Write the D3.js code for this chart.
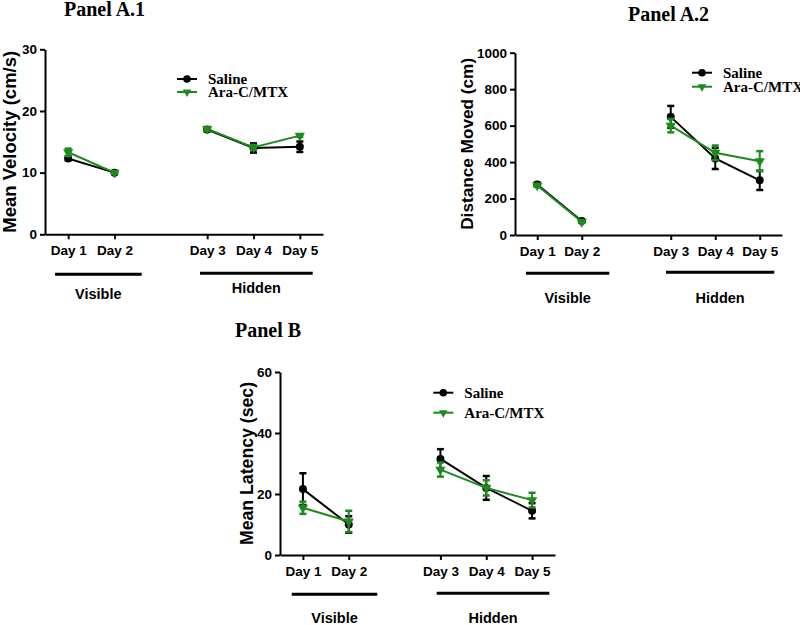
<!DOCTYPE html>
<html>
<head>
<meta charset="utf-8">
<script src="https://cdn.jsdelivr.net/npm/d3@7"></script>
<style>
  html, body { margin: 0; padding: 0; background: #fff; }
  svg { display: block; }
  .sans { font-family: "Liberation Sans", Arial, sans-serif; font-weight: bold; }
  .serif { font-family: "Liberation Serif", "Times New Roman", serif; font-weight: bold; }
</style>
</head>
<body>
<svg id="chart" width="800" height="625"></svg>
<script>
// ---------- data ----------
const days = ["Day 1", "Day 2", "Day 3", "Day 4", "Day 5"];
const xSlots = ["Day 1", "Day 2", " ", "Day 3", "Day 4", "Day 5"]; // blank slot = gap between phases
const phases = ["Visible", "Hidden"];
const phaseDays = [["Day 1", "Day 2"], ["Day 3", "Day 4", "Day 5"]];
const seriesNames = ["Saline", "Ara-C/MTX"];

// Panel A.1 – Mean velocity (cm/s)
const velTicks = [0, 10, 20, 30];
const velSaline = [12.3, 10.0, 17.0, 14.0, 14.2];
const velSalineErr = [0.3, 0.2, 0.3, 0.75, 0.85];
const velAra = [13.3, 10.0, 17.1, 14.1, 16.0];
const velAraErr = [0.6, 0.2, 0.3, 0.4, 0.2];

// Panel A.2 – Distance moved (cm)
const distTicks = [0, 200, 400, 600, 800, 1000];
const distSaline = [277, 77, 648, 420, 300];
const distSalineErr = [10, 8, 60, 58, 53];
const distAra = [272, 73, 600, 451, 405];
const distAraErr = [8, 6, 37, 40, 55];

// Panel B – Mean latency (sec)
const latTicks = [0, 20, 40, 60];
const latSaline = [21.6, 10.0, 31.5, 22.0, 14.5];
const latSalineErr = [5.2, 2.7, 3.2, 3.9, 2.5];
const latAra = [15.5, 11.0, 28.0, 22.0, 18.0];
const latAraErr = [2.0, 3.5, 2.3, 2.5, 2.4];

const colors = ["#000000", "#1c8a1c"];

// ---------- layout ----------
const panels = [
  { title: "Panel A.1", ytitle: "Mean Velocity (cm/s)", ytitleSize: 18.5,
    left: 45, right: 323, top: 49.3, bottom: 234.3, ticks: velTicks,
    series: [[velSaline, velSalineErr], [velAra, velAraErr]],
    titleX: 64, titleY: 16, ytitleX: 15.5,
    legX: 177, legY: [79, 92],
    bars: [[55, 141.7, 274.3], [200, 312.7, 273.3]], labelY: [299, 293] },
  { title: "Panel A.2", ytitle: "Distance Moved (cm)", ytitleSize: 17.2,
    left: 515, right: 782, top: 52.7, bottom: 235, ticks: distTicks,
    series: [[distSaline, distSalineErr], [distAra, distAraErr]],
    titleX: 628, titleY: 20.5, ytitleX: 472.5,
    legX: 692, legY: [72.7, 86.7],
    bars: [[526, 609.3, 273.3], [666, 774.3, 272.3]], labelY: [303, 303] },
  { title: "Panel B", ytitle: "Mean Latency (sec)", ytitleSize: 17.7,
    left: 280, right: 555, top: 372, bottom: 555, ticks: latTicks,
    series: [[latSaline, latSalineErr], [latAra, latAraErr]],
    titleX: 235, titleY: 337, ytitleX: 253,
    legX: 433.3, legY: [392.7, 412.7],
    bars: [[291.7, 377.3, 594.3], [436.7, 549.3, 593.3]], labelY: [622.5, 622.5] }
];

const svg = d3.select("#chart");
const triDown = d3.symbol().type(d3.symbolTriangle);

panels.forEach(p => {
  const g = svg.append("g");
  const x = d3.scalePoint().domain(xSlots).range([p.left, p.right]).padding(0.5);
  const y = d3.scaleLinear().domain([0, d3.max(p.ticks)]).range([p.bottom, p.top]);

  // title
  g.append("text").attr("class", "serif")
    .attr("x", p.titleX).attr("y", p.titleY)
    .attr("font-size", 20).text(p.title);

  // axes
  const xAxis = g.append("g").attr("transform", `translate(0,${p.bottom})`)
    .call(d3.axisBottom(x).tickValues(days).tickSize(5).tickSizeOuter(0).tickPadding(6));
  const yAxis = g.append("g").attr("transform", `translate(${p.left},0)`)
    .call(d3.axisLeft(y).tickValues(p.ticks).tickSize(5).tickSizeOuter(0).tickPadding(3).tickFormat(d3.format("d")));
  [xAxis, yAxis].forEach(a => {
    a.select(".domain").attr("stroke", "#000").attr("stroke-width", 2);
    a.selectAll(".tick line").attr("stroke", "#000").attr("stroke-width", 2);
    a.selectAll(".tick text").attr("class", "sans").attr("font-size", 13.5).attr("fill", "#000");
  });

  // y title
  g.append("text").attr("class", "sans")
    .attr("transform", `translate(${p.ytitleX},${(p.top + p.bottom) / 2}) rotate(-90)`)
    .attr("text-anchor", "middle").attr("font-size", p.ytitleSize).text(p.ytitle);

  // phase bars & labels
  phases.forEach((ph, i) => {
    const b = p.bars[i];
    g.append("line").attr("x1", b[0]).attr("x2", b[1]).attr("y1", b[2]).attr("y2", b[2])
      .attr("stroke", "#000").attr("stroke-width", 3);
    g.append("text").attr("class", "sans").attr("font-size", 14.5)
      .attr("text-anchor", "middle").attr("x", (b[0] + b[1]) / 2).attr("y", p.labelY[i]).text(ph);
  });

  // series
  p.series.forEach((s, si) => {
    const vals = s[0], errs = s[1];
    const col = colors[si];
    const pts = days.map((d, i) => ({ d, v: vals[i], e: errs[i] }));
    const sg = g.append("g");
    const line = d3.line().x(d => x(d.d)).y(d => y(d.v));
    phaseDays.forEach(pd => {
      sg.append("path").datum(pts.filter(q => pd.includes(q.d)))
        .attr("d", line).attr("fill", "none").attr("stroke", col).attr("stroke-width", 2);
    });
    // error bars
    const eb = sg.selectAll(".eb").data(pts).join("g");
    eb.append("line").attr("x1", d => x(d.d)).attr("x2", d => x(d.d))
      .attr("y1", d => y(d.v - d.e)).attr("y2", d => y(d.v + d.e))
      .attr("stroke", col).attr("stroke-width", 2);
    [-1, 1].forEach(sign => {
      eb.append("line").attr("x1", d => x(d.d) - 3.5).attr("x2", d => x(d.d) + 3.5)
        .attr("y1", d => y(d.v + sign * d.e)).attr("y2", d => y(d.v + sign * d.e))
        .attr("stroke", col).attr("stroke-width", 2.5);
    });
    // markers
    if (si === 0) {
      sg.selectAll(".mk").data(pts).join("circle")
        .attr("cx", d => x(d.d)).attr("cy", d => y(d.v)).attr("r", 4).attr("fill", col);
    } else {
      sg.selectAll(".mk").data(pts).join("path")
        .attr("d", triDown.size(46))
        .attr("transform", d => `translate(${x(d.d)},${y(d.v)}) rotate(180)`).attr("fill", col);
    }
  });

  // legend
  seriesNames.forEach((nm, si) => {
    const ly = p.legY[si];
    const col = colors[si];
    g.append("line").attr("x1", p.legX).attr("x2", p.legX + 20).attr("y1", ly).attr("y2", ly)
      .attr("stroke", col).attr("stroke-width", 2);
    if (si === 0) {
      g.append("circle").attr("cx", p.legX + 10).attr("cy", ly).attr("r", 3.8).attr("fill", col);
    } else {
      g.append("path").attr("d", triDown.size(32))
        .attr("transform", `translate(${p.legX + 10},${ly}) rotate(180)`).attr("fill", col);
    }
    g.append("text").attr("class", "serif").attr("font-size", 15)
      .attr("x", p.legX + 31).attr("y", ly).attr("dy", "0.35em").text(nm);
  });
});
</script>
</body>
</html>
